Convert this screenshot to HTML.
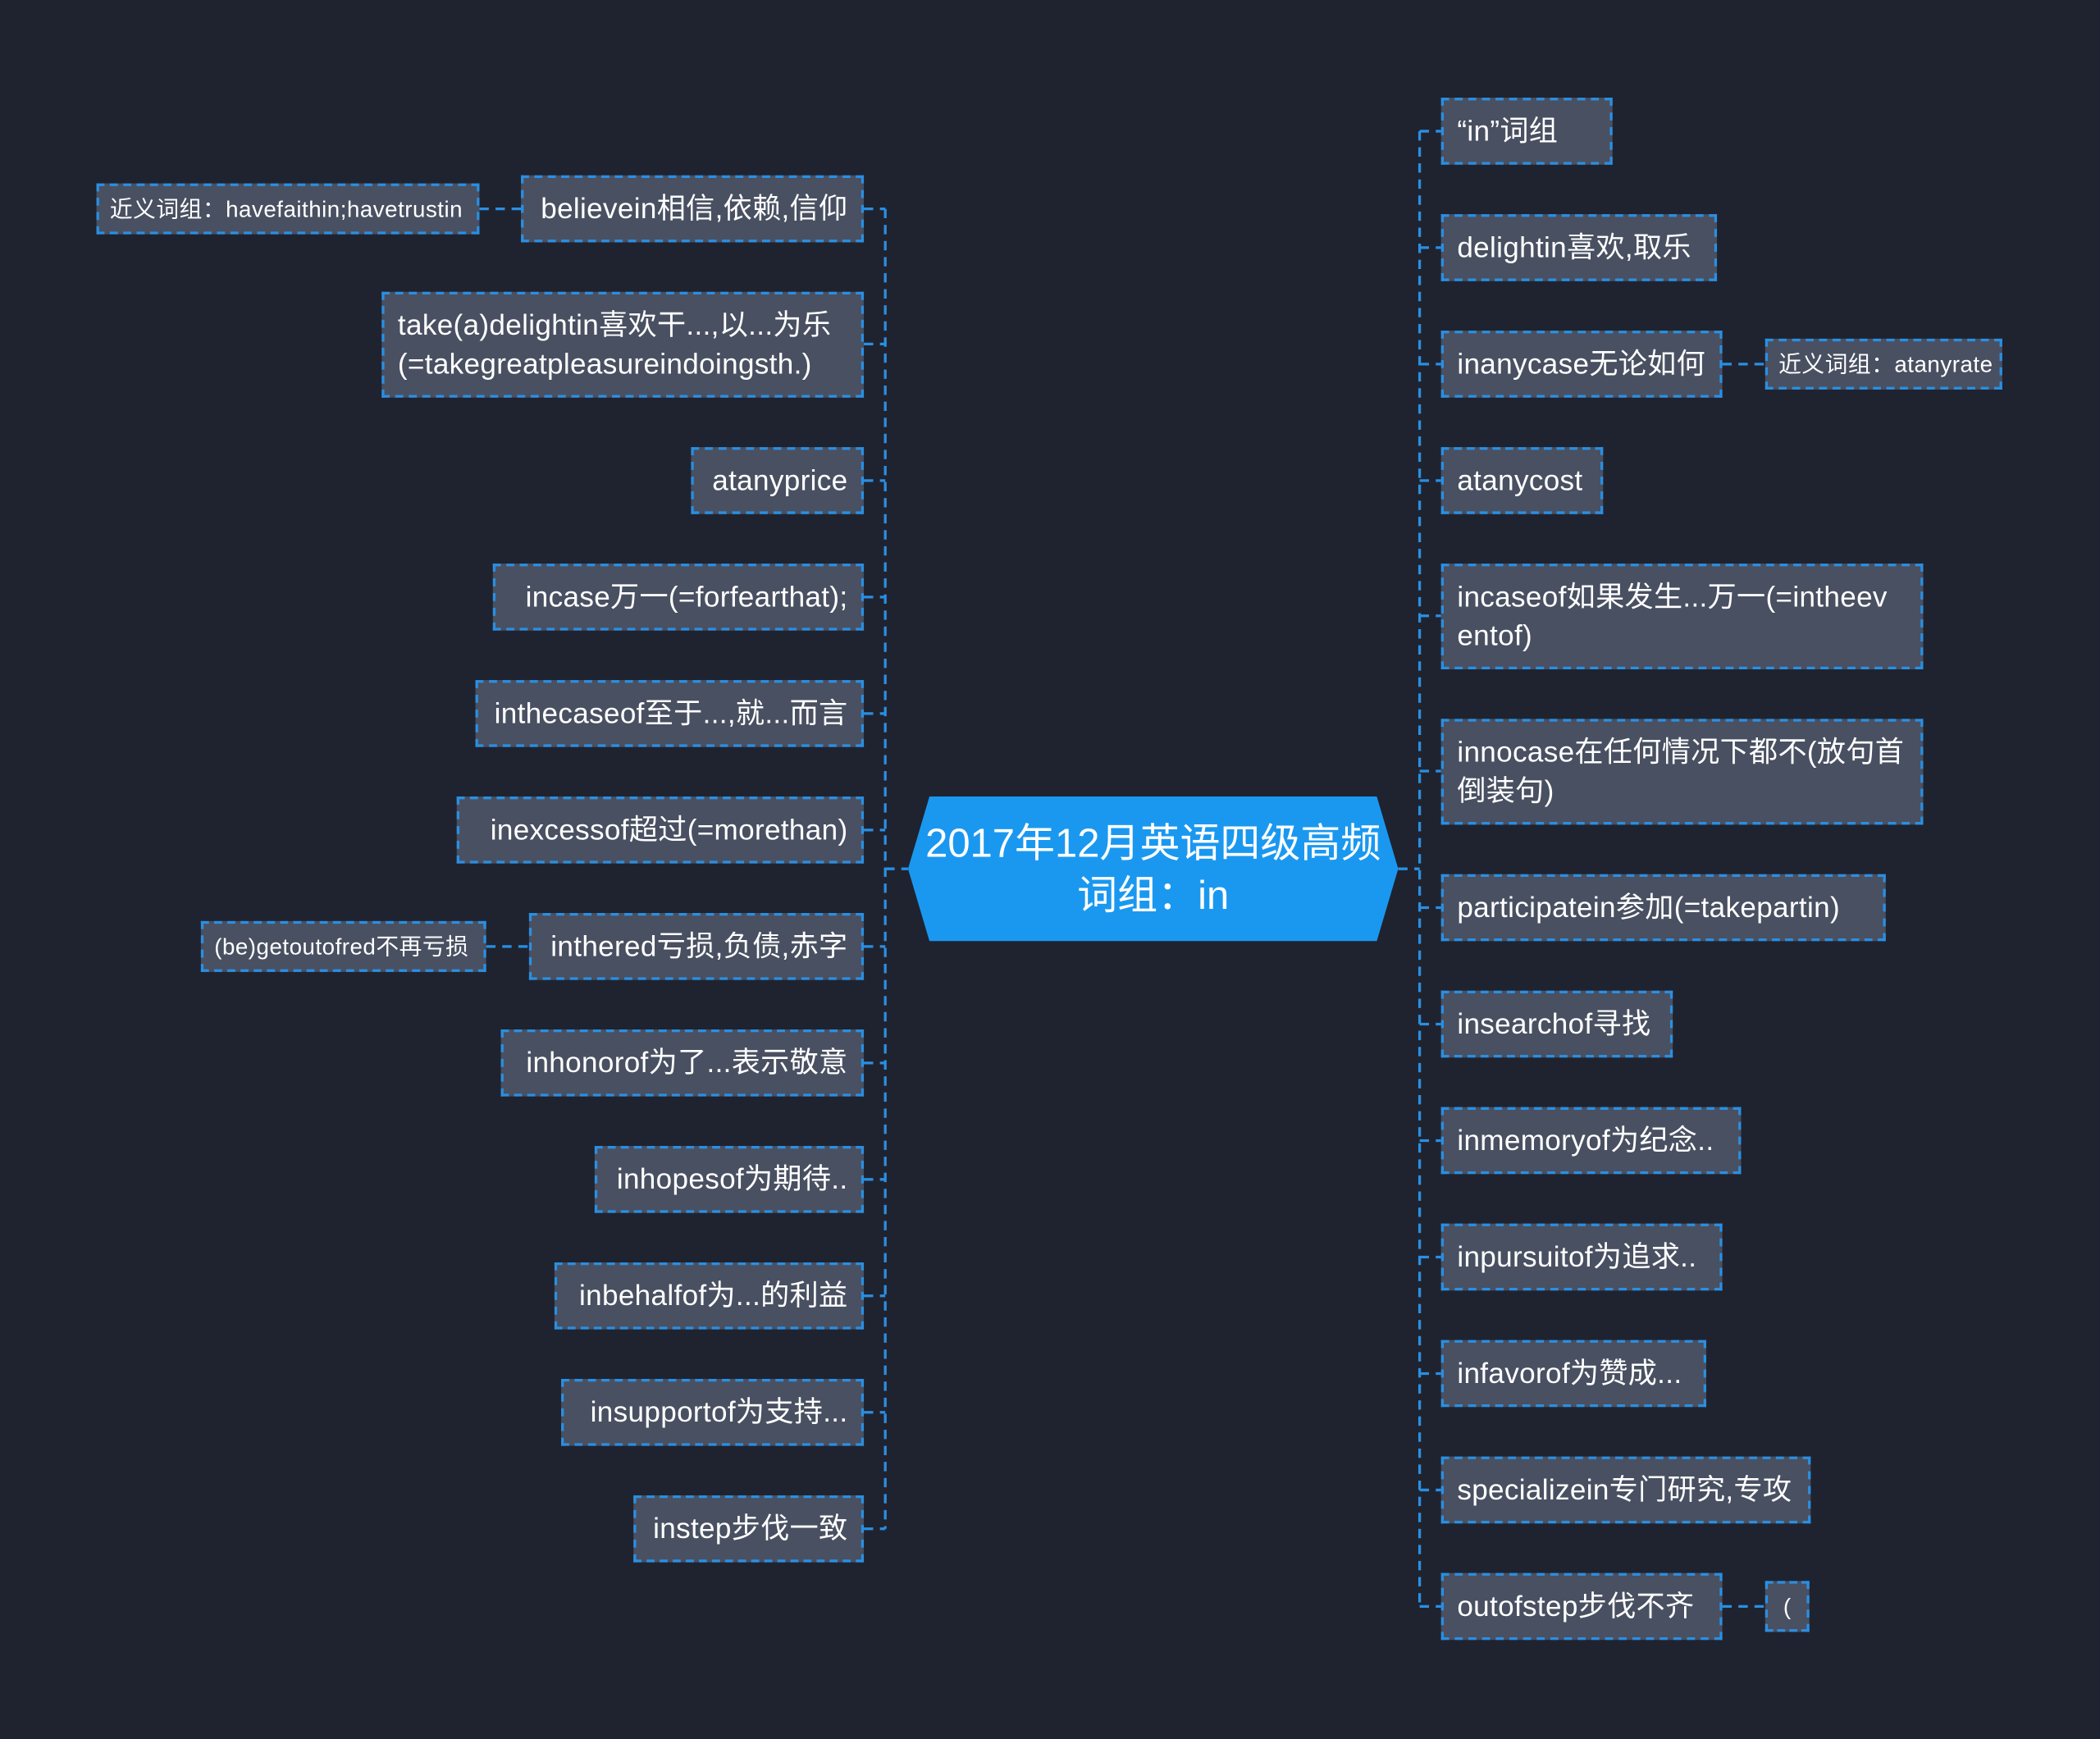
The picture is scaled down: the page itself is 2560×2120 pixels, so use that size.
<!DOCTYPE html>
<html><head><meta charset="utf-8">
<style>
html,body{margin:0;padding:0;background:#1f2330;}
body{width:2560px;height:2120px;overflow:hidden;}
#w{position:absolute;left:0;top:0;width:1568px;height:1299px;transform:scale(1.63265,1.63202);transform-origin:0 0;background:#1f2330;font-family:"Liberation Sans","Noto Sans CJK SC",sans-serif;}
.n{position:absolute;box-sizing:border-box;background:#495061;border:2px dashed #2a8fe2;color:#fff;font-size:21.5px;line-height:29px;padding:0 10px;display:flex;align-items:center;white-space:nowrap;overflow:visible;letter-spacing:0.2px}
.s{font-size:17px;padding:0 8px;letter-spacing:0.3px}
.r{justify-content:flex-end}
svg{position:absolute;left:0;top:0}
</style></head><body><div id="w">
<svg width="1568" height="1299">
<g stroke="#2a8fe2" stroke-width="2" fill="none" stroke-dasharray="7,5">
<path d="M661 156 V1142"/>
<path d="M645 156 H661 M645 257 H661 M645 359 H661 M645 446 H661 M645 533 H661 M645 620 H661 M645 707 H661 M645 794 H661 M645 881 H661 M645 968 H661 M645 1055 H661 M645 1142 H661"/>
<path d="M661 649 H678"/>
<path d="M358 156 H389 M363 707 H395"/>
<path d="M1060 98 V1200"/>
<path d="M1060 98 H1076 M1060 185 H1076 M1060 272 H1076 M1060 359 H1076 M1060 460 H1076 M1060 576 H1076 M1060 678 H1076 M1060 765 H1076 M1060 852 H1076 M1060 939 H1076 M1060 1026 H1076 M1060 1113 H1076 M1060 1200 H1076"/>
<path d="M1044 649 H1060"/>
<path d="M1286 272 H1318 M1286 1200 H1318"/>
</g>
<polygon points="694,595 1028,595 1044,649 1028,703 694,703 678,649" fill="#1a98f0"/>
<text x="861" y="640" fill="#fff" font-size="30" text-anchor="middle" font-family="Liberation Sans,Noto Sans CJK SC,sans-serif">2017年12月英语四级高频</text>
<text x="861" y="679" fill="#fff" font-size="30" text-anchor="middle" font-family="Liberation Sans,Noto Sans CJK SC,sans-serif">词组：in</text>
</svg>

<div class="n s" style="left:72px;top:137px;width:286px;height:38px">近义词组：havefaithin;havetrustin</div>
<div class="n r" style="left:389px;top:131px;width:256px;height:50px">believein相信,依赖,信仰</div>
<div class="n" style="left:285px;top:218px;width:360px;height:79px">take(a)delightin喜欢干...,以...为乐<br>(=takegreatpleasureindoingsth.)</div>
<div class="n r" style="left:516px;top:334px;width:129px;height:50px">atanyprice</div>
<div class="n r" style="left:368px;top:421px;width:277px;height:50px">incase万一(=forfearthat);</div>
<div class="n r" style="left:355px;top:508px;width:290px;height:50px">inthecaseof至于...,就...而言</div>
<div class="n r" style="left:341px;top:595px;width:304px;height:50px">inexcessof超过(=morethan)</div>
<div class="n s" style="left:150px;top:688px;width:213px;height:38px">(be)getoutofred不再亏损</div>
<div class="n r" style="left:395px;top:682px;width:250px;height:50px">inthered亏损,负债,赤字</div>
<div class="n r" style="left:374px;top:769px;width:271px;height:50px">inhonorof为了...表示敬意</div>
<div class="n r" style="left:444px;top:856px;width:201px;height:50px">inhopesof为期待..</div>
<div class="n r" style="left:414px;top:943px;width:231px;height:50px">inbehalfof为...的利益</div>
<div class="n r" style="left:419px;top:1030px;width:226px;height:50px">insupportof为支持...</div>
<div class="n r" style="left:473px;top:1117px;width:172px;height:50px">instep步伐一致</div>

<div class="n" style="left:1076px;top:73px;width:128px;height:50px">“in”词组</div>
<div class="n" style="left:1076px;top:160px;width:206px;height:50px">delightin喜欢,取乐</div>
<div class="n" style="left:1076px;top:247px;width:210px;height:50px">inanycase无论如何</div>
<div class="n s" style="left:1318px;top:253px;width:177px;height:38px">近义词组：atanyrate</div>
<div class="n" style="left:1076px;top:334px;width:121px;height:50px">atanycost</div>
<div class="n" style="left:1076px;top:421px;width:360px;height:79px"><span>incaseof如果发生...万一(=intheev<br>entof)</span></div>
<div class="n" style="left:1076px;top:537px;width:360px;height:79px"><span>innocase在任何情况下都不(放句首<br>倒装句)</span></div>
<div class="n" style="left:1076px;top:653px;width:332px;height:50px">participatein参加(=takepartin)</div>
<div class="n" style="left:1076px;top:740px;width:173px;height:50px">insearchof寻找</div>
<div class="n" style="left:1076px;top:827px;width:224px;height:50px">inmemoryof为纪念..</div>
<div class="n" style="left:1076px;top:914px;width:210px;height:50px">inpursuitof为追求..</div>
<div class="n" style="left:1076px;top:1001px;width:198px;height:50px">infavorof为赞成...</div>
<div class="n" style="left:1076px;top:1088px;width:276px;height:50px">specializein专门研究,专攻</div>
<div class="n" style="left:1076px;top:1175px;width:210px;height:50px">outofstep步伐不齐</div>
<div class="n s" style="left:1318px;top:1181px;width:33px;height:38px;justify-content:center;padding:0">(</div>
</div></body></html>
